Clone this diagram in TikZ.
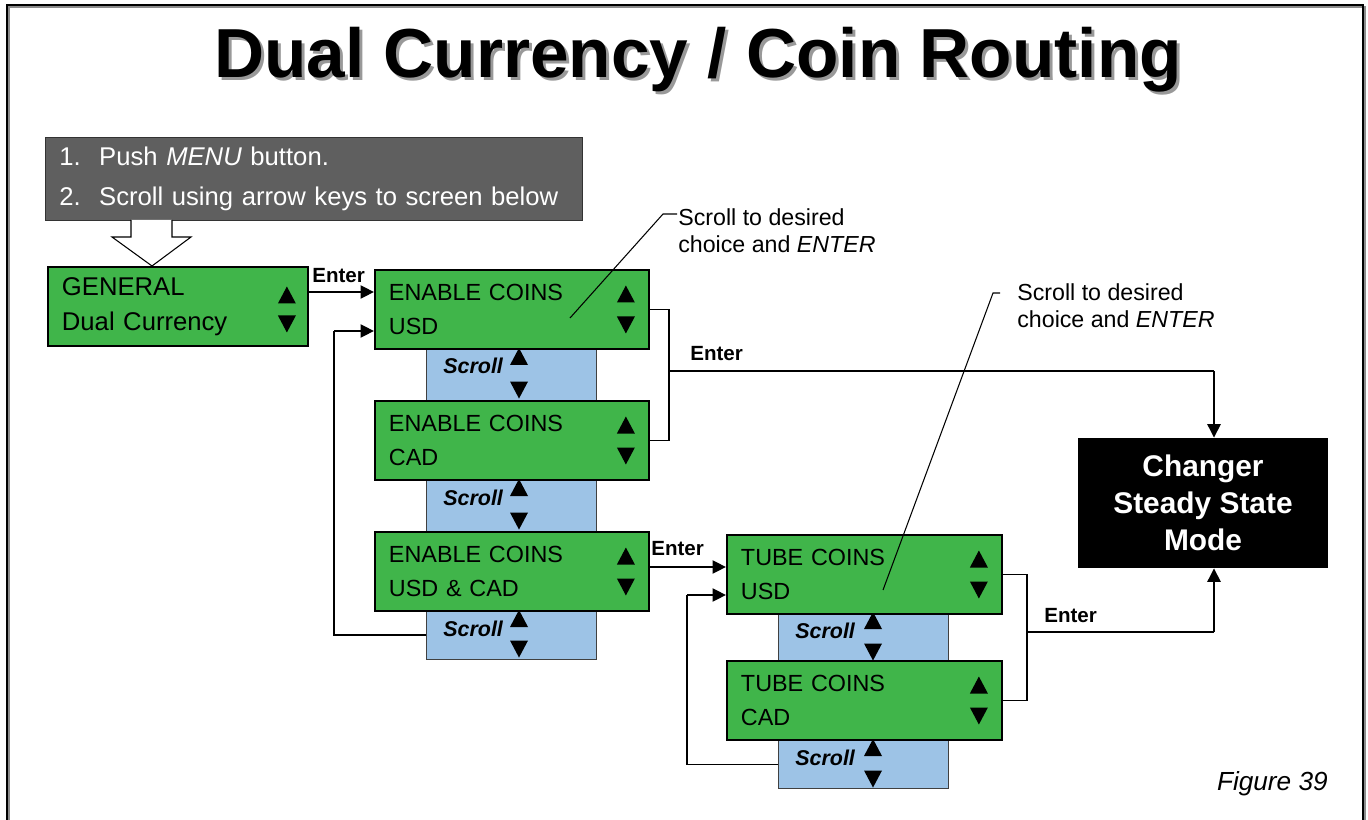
\documentclass[tikz,border=0pt]{standalone}
\usepackage{fontspec}
\setmainfont{Liberation Sans}
\usetikzlibrary{arrows.meta}

\definecolor{lcdgreen}{RGB}{64,181,74}
\definecolor{scrollblue}{RGB}{157,195,230}
\definecolor{instrgray}{RGB}{95,95,95}

\tikzset{
  screen/.style={draw=black, line width=1.1pt, fill=lcdgreen, anchor=north west, align=left,
    inner xsep=0.28cm, inner ysep=0pt, minimum height=1.58cm, text width=4.92cm,
    font=\fontsize{13.3}{19.8}\selectfont},
  scrollbox/.style={draw=black!75, line width=0.6pt, fill=scrollblue, anchor=north west,
    inner sep=0pt, minimum width=3.4cm, minimum height=1.04cm},
  scrolltxt/.style={anchor=base west, inner sep=0pt, font=\fontsize{12.2}{14}\selectfont\bfseries\itshape},
  entertxt/.style={anchor=base west, inner sep=0pt, font=\fontsize{11.7}{14}\selectfont\bfseries},
  callout/.style={anchor=north west, inner sep=0pt, align=left, font=\fontsize{13.2}{15.3}\selectfont},
  arr/.style={-{Triangle[length=0.27cm,width=0.26cm]}, line width=1.4pt},
  link/.style={line width=0.6pt},
  tup/.pic={\fill (-9,8.5) -- (9,8.5) -- (0,-8.5) -- cycle;},
  tdn/.pic={\fill (-9,-8.5) -- (9,-8.5) -- (0,8.5) -- cycle;}
}

\begin{document}
\begin{tikzpicture}[x=0.02cm,y=-0.02cm]
\useasboundingbox (0,0) rectangle (1368,820);
% frame
\draw[black!45, line width=1pt] (9,820) -- (9,7) -- (1365,7) -- (1365,820);
\draw[line width=1.1pt] (7,820) -- (7,5) -- (1363,5) -- (1363,820);
% title
\node[anchor=base, inner sep=0pt, font=\fontsize{39.5}{44}\selectfont\bfseries, text=black!40] (titleshade) at (701,81) {Dual Currency / Coin Routing};
\node[anchor=base, inner sep=0pt, font=\fontsize{39.5}{44}\selectfont\bfseries] (title) at (698,78) {Dual Currency / Coin Routing};
% instructions
\node[anchor=north west, fill=instrgray, draw=black!80, text=white, align=left, inner xsep=0.28cm,
  minimum height=1.66cm, text width=10.18cm, font=\fontsize{14.6}{22.7}\selectfont] (instr) at (45,137)
  {1.\hspace{0.37cm}Push \textit{MENU} button.\\2.\hspace{0.37cm}Scroll using arrow keys to screen below};
\draw[fill=white, line width=0.6pt] (131,220) -- (131,237) -- (112,237) -- (152,266) -- (191,237) -- (172,237) -- (172,220);

% scroll strips
\node[scrollbox] (s1) at (426,348) {};
\node[scrollbox] (s2) at (426,479) {};
\node[scrollbox, minimum height=0.98cm] (s3) at (426,610) {};
\node[scrollbox, minimum height=0.98cm] (s4) at (778,612) {};
\node[scrollbox, minimum height=0.98cm] (s5) at (778,739) {};
\node[scrolltxt] (sc1) at ([shift={(17,26)}]s1.north west) {Scroll};
\node[scrolltxt] (sc2) at ([shift={(17,26)}]s2.north west) {Scroll};
\node[scrolltxt] (sc3) at ([shift={(17,26)}]s3.north west) {Scroll};
\node[scrolltxt] (sc4) at ([shift={(17,26)}]s4.north west) {Scroll};
\node[scrolltxt] (sc5) at ([shift={(17,26)}]s5.north west) {Scroll};
\pic at ([shift={(93,8.5)}]s1.north west) {tup};
\pic at ([shift={(93,-11)}]s1.south west) {tdn};
\pic at ([shift={(93,8.5)}]s2.north west) {tup};
\pic at ([shift={(93,-11)}]s2.south west) {tdn};
\pic at ([shift={(93,8.5)}]s3.north west) {tup};
\pic at ([shift={(93,-11)}]s3.south west) {tdn};
\pic at ([shift={(95,8.5)}]s4.north west) {tup};
\pic at ([shift={(95,-10)}]s4.south west) {tdn};
\pic at ([shift={(95,8.5)}]s5.north west) {tup};
\pic at ([shift={(95,-10)}]s5.south west) {tdn};

% screens
\node[screen, text width=4.64cm, font=\fontsize{14.6}{19.8}\selectfont] (gen) at (47,266) {GENERAL\\Dual Currency};
\node[screen] (eusd) at (374,269) {ENABLE COINS\\USD};
\node[screen] (ecad) at (374,400) {ENABLE COINS\\CAD};
\node[screen] (eboth) at (374,531) {ENABLE COINS\\USD \& CAD};
\node[screen, text width=4.94cm] (tusd) at (726,534) {TUBE COINS\\USD};
\node[screen, text width=4.94cm] (tcad) at (726,660) {TUBE COINS\\CAD};
\pic at ([shift={(-22,29)}]gen.north east) {tup};
\pic at ([shift={(-22,58)}]gen.north east) {tdn};
\pic at ([shift={(-24,25)}]eusd.north east) {tup};
\pic at ([shift={(-24,56)}]eusd.north east) {tdn};
\pic at ([shift={(-24,25)}]ecad.north east) {tup};
\pic at ([shift={(-24,56)}]ecad.north east) {tdn};
\pic at ([shift={(-24,25)}]eboth.north east) {tup};
\pic at ([shift={(-24,56)}]eboth.north east) {tdn};
\pic at ([shift={(-24,25)}]tusd.north east) {tup};
\pic at ([shift={(-24,56)}]tusd.north east) {tdn};
\pic at ([shift={(-24,25)}]tcad.north east) {tup};
\pic at ([shift={(-24,56)}]tcad.north east) {tdn};

% end state
\node[fill=black, text=white, align=center, minimum width=5cm, minimum height=2.6cm,
  font=\fontsize{17}{21}\selectfont\bfseries] (chg) at (1203,503) {Changer\\Steady State\\Mode};

% callouts
\node[callout] (call1) at (678,208) {Scroll to desired\\choice and \textit{ENTER}};
\node[callout] (call2) at (1017,283) {Scroll to desired\\choice and \textit{ENTER}};
\coordinate (tip1) at (570,318);
\coordinate (tip2) at (883,590);
\draw[link] ([shift={(-1,6)}]call1.north west) -- ++(-14,0) -- (tip1);
\draw[link] ([shift={(-17,10)}]call2.north west) -- ++(-7,0) -- (tip2);

% enter arrows
\node[entertxt] (ent1) at (312,283) {Enter};
\node[entertxt] (ent2) at (690,361) {Enter};
\node[entertxt] (ent3) at (651,555) {Enter};
\node[entertxt] (ent4) at (1044,622) {Enter};
\draw[arr] (gen.east |- 0,292) -- (eusd.west |- 0,292);
\draw[arr] (eboth.east |- 0,567) -- (tusd.west |- 0,567);

\coordinate (brk1) at (669,371);
\coordinate (turn1) at (1214,371);
\draw[link] (eusd.east) -| (brk1) |- (ecad.east);
\draw[link] (brk1) -- (turn1);
\draw[arr] (turn1) -- (turn1 |- chg.north);

\coordinate (brk2) at (1027,632);
\coordinate (turn2) at (1214,632);
\draw[link] (tusd.east) -| (brk2) |- (tcad.east);
\draw[link] (brk2) -- (turn2);
\draw[arr] (turn2) -- (turn2 |- chg.south);

% scroll back loops
\coordinate (loop1) at (334,331);
\draw[link] (s3.west) -| (loop1);
\draw[arr] (loop1) -- (eusd.west |- loop1);
\coordinate (loop2) at (687,595);
\draw[link] (s5.west) -| (loop2);
\draw[arr] (loop2) -- (tusd.west |- loop2);

\node[anchor=base east, inner sep=0pt, font=\fontsize{14.9}{18}\selectfont\itshape] (fig) at (1328,790) {Figure 39};
\end{tikzpicture}
\end{document}
